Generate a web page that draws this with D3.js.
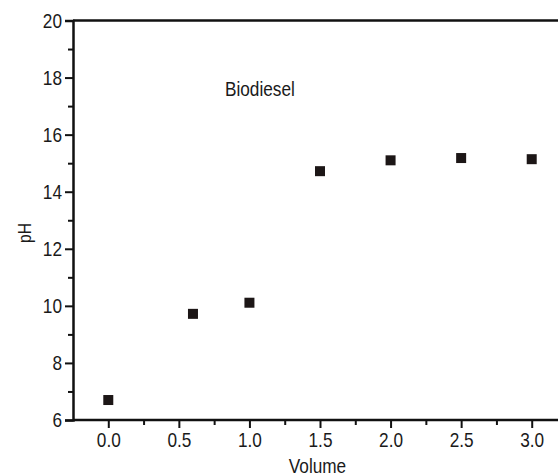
<!DOCTYPE html>
<html><head><meta charset="utf-8">
<script src="https://cdn.jsdelivr.net/npm/d3@7"></script>
<style>
html,body{margin:0;padding:0;background:#fff;}
text{font-family:"Liberation Sans",Arial,sans-serif;fill:#1a1a1a;}
</style></head>
<body>
<svg id="c" width="558" height="476"></svg>
<script>
const volume = [0.0, 0.6, 1.0, 1.5, 2.0, 2.5, 3.0];
const pH = [6.70, 9.72, 10.11, 14.72, 15.10, 15.18, 15.14];
const xTicks = [0.0, 0.5, 1.0, 1.5, 2.0, 2.5, 3.0];
const xMinor = [0.25, 0.75, 1.25, 1.75, 2.25, 2.75];
const yTicks = [6, 8, 10, 12, 14, 16, 18, 20];
const yMinor = [7, 9, 11, 13, 15, 17, 19];
const label = "Biodiesel";

const svg = d3.select("#c");
const x = d3.scaleLinear().domain([-0.25, 3.25]).range([73, 567]);
const y = d3.scaleLinear().domain([6, 20]).range([420, 20.5]);
const col = "#111";
const lw = 2.5;
const sx = 0.82; // narrow font emulation

// top line
svg.append("line").attr("x1", x(-0.25)).attr("x2", 558).attr("y1", y(20)).attr("y2", y(20))
  .attr("stroke", col).attr("stroke-width", lw);

// x axis
const gx = svg.append("g").attr("transform", `translate(0,${y(6)})`)
  .call(d3.axisBottom(x).tickValues(xTicks).tickFormat(d3.format(".1f")).tickSizeOuter(0).tickSize(8).tickPadding(4));
gx.select(".domain").attr("d", `M${x(-0.25)},0H558`);
gx.selectAll("line").attr("stroke-width", 2);
gx.selectAll("text").attr("font-size", 21).attr("dy", "0.72em")
  .attr("transform", `scale(${sx},1)`);
const gxm = svg.append("g").attr("transform", `translate(0,${y(6)})`)
  .call(d3.axisBottom(x).tickValues(xMinor).tickFormat("").tickSize(5));
gxm.select(".domain").remove();
gxm.selectAll("line").attr("stroke-width", 2);

// y axis
const gy = svg.append("g").attr("transform", `translate(${x(-0.25)},0)`)
  .call(d3.axisLeft(y).tickValues(yTicks).tickSizeOuter(0).tickSize(8).tickPadding(3));
gy.selectAll("line").attr("stroke-width", 2);
gy.selectAll("text").attr("font-size", 21).attr("x", 0)
  .attr("transform", `translate(-11,0) scale(${sx},1)`);
const gym = svg.append("g").attr("transform", `translate(${x(-0.25)},0)`)
  .call(d3.axisLeft(y).tickValues(yMinor).tickFormat("").tickSize(5));
gym.select(".domain").remove();
gym.selectAll("line").attr("stroke-width", 2);

svg.selectAll(".domain").attr("stroke", col).attr("stroke-width", lw);
svg.selectAll(".tick line").attr("stroke", col);
svg.selectAll(".tick text").style("font-family", null).attr("fill", "#1a1a1a");

// markers
const s = 10;
svg.append("g").selectAll("rect").data(volume).join("rect")
  .attr("x", (d) => x(d) - s / 2)
  .attr("y", (d, i) => y(pH[i]) - s / 2)
  .attr("width", s).attr("height", s)
  .attr("fill", "#1c1616");

// labels
svg.append("text").attr("transform", `translate(225,95.5) scale(${sx},1)`).attr("font-size", 21).text(label);
svg.append("text").attr("transform", `translate(317.5,473) scale(${sx},1)`).attr("text-anchor", "middle").attr("font-size", 21).text("Volume");
svg.append("text").attr("transform", `translate(31,233) rotate(-90) scale(${sx},1)`).attr("text-anchor", "middle").attr("font-size", 19).text("pH");
</script>
</body></html>
